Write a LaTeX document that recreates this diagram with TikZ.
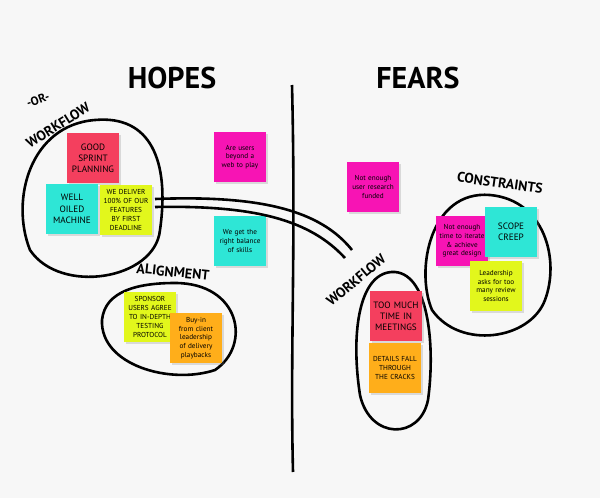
\documentclass[tikz,border=0pt]{standalone}
\usepackage{fontspec}
\setmainfont{PT Sans}
\usetikzlibrary{positioning,calc,shadows}
\definecolor{noteRed}{HTML}{F43F5E}
\definecolor{noteCyan}{HTML}{2EE6D6}
\definecolor{noteLime}{HTML}{E2F71C}
\definecolor{noteMagenta}{HTML}{F714B4}
\definecolor{noteOrange}{HTML}{FFAE1A}
\definecolor{board}{HTML}{F7F7F7}

\begin{document}
\begin{tikzpicture}[
    x=0.5pt, y=-0.5pt,
    note/.style={rectangle, minimum width=26pt, minimum height=25pt, text width=24pt, align=center, inner sep=1pt, font=\fontsize{3.6}{4.3}\selectfont, drop shadow={opacity=0.25, shadow xshift=1pt, shadow yshift=-1pt}},
    bignote/.style={note, font=\fontsize{4.6}{5.6}\selectfont},
    capnote/.style={note, font=\fontsize{3.6}{4.5}\selectfont},
    ink/.style={line width=1.3pt, black},
    heading/.style={font=\fontsize{15}{15}\selectfont\bfseries},
    label/.style={font=\fontsize{7}{7}\selectfont\bfseries}
]
\fill[board] (0,0) rectangle (600,498);

% Headings
\node[heading] (hopes) at (172,78) {HOPES};
\node[heading] (fears) at (418,78) {FEARS};
\node[rotate=20, font=\fontsize{6}{6}\selectfont\bfseries] (or) at (38,100) {-OR-};

% Divider
\draw[ink] (292,85) .. controls (296,250) and (290,350) .. (293,472);

% Left workflow group
\draw[ink] (95,120) .. controls (150,115) and (170,160) .. (160,230)
    .. controls (155,280) and (60,295) .. (30,250)
    .. controls (10,200) and (30,125) .. (95,120);
\node[label, rotate=32] (wf1) at (58,125) {WORKFLOW};
\node[bignote, fill=noteRed] (sprint) at (93,158) {GOOD SPRINT PLANNING};
\node[bignote, fill=noteCyan] (oiled) at (72,209) {WELL OILED MACHINE};
\node[capnote, fill=noteLime] (deliver) at (126,210) {WE DELIVER 100\% OF OUR FEATURES BY FIRST DEADLINE};

% Loose hopes
\node[note, fill=noteMagenta] (beyond) at (240,157) {Are users beyond a web to play};
\node[note, fill=noteCyan] (skills) at (240,241) {We get the right balance of skills};

% Alignment group
\draw[ink] (175,283) .. controls (240,283) and (252,345) .. (215,370)
    .. controls (170,385) and (100,365) .. (102,320)
    .. controls (105,290) and (140,283) .. (175,283);
\node[label, rotate=-6] (align) at (173,272) {ALIGNMENT};
\node[capnote, fill=noteLime] (sponsor) at (150,317) {SPONSOR USERS AGREE TO IN-DEPTH TESTING PROTOCOL};
\node[note, fill=noteOrange] (buyin) at (196,338) {Buy-in from client leadership of delivery playbacks};

% Link between workflow groups
\draw[ink] (155,199) .. controls (260,195) and (320,210) .. (352,250);
\draw[ink] (155,207) .. controls (255,205) and (310,220) .. (345,258);

% Loose fears
\node[note, fill=noteMagenta] (research) at (373,187) {Not enough user research funded};

% Constraints group
\draw[ink] (490,195) .. controls (545,200) and (560,260) .. (545,300)
    .. controls (530,340) and (460,350) .. (432,310)
    .. controls (415,270) and (430,190) .. (490,195);
\node[label, rotate=-8] (constr) at (500,183) {CONSTRAINTS};
\node[note, fill=noteMagenta] (iterate) at (462,241) {Not enough time to iterate \& achieve great design};
\node[bignote, fill=noteCyan] (creep) at (511,232) {SCOPE CREEP};
\node[note, fill=noteLime] (leaders) at (496,286) {Leadership asks for too many review sessions};

% Right workflow group
\draw[ink] (395,272) .. controls (430,275) and (435,350) .. (428,400)
    .. controls (420,440) and (370,440) .. (360,395)
    .. controls (350,330) and (360,270) .. (395,272);
\node[label, rotate=40] (wf2) at (356,280) {WORKFLOW};
\node[bignote, fill=noteRed] (meetings) at (396,316) {TOO MUCH TIME IN MEETINGS};
\node[capnote, fill=noteOrange] (cracks) at (395,368) {DETAILS FALL THROUGH THE CRACKS};
\end{tikzpicture}
\end{document}
